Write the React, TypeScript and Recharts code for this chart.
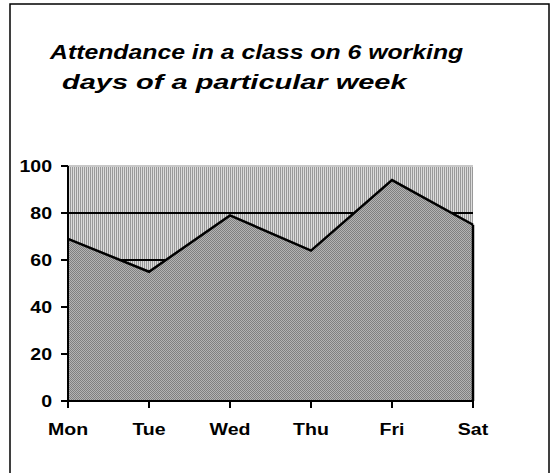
import React from "react";
import {
  AreaChart,
  Area,
  XAxis,
  YAxis,
  CartesianGrid,
  ReferenceLine,
} from "recharts";

const days = ["Mon", "Tue", "Wed", "Thu", "Fri", "Sat"];
const attendance = [69, 55, 79, 64, 94, 75];
const yTicks = [0, 20, 40, 60, 80, 100];
const gridValues = [20, 40, 60, 80];
const titleLines = ["Attendance in a class on 6 working", "days of a particular week"];

const data = days.map((day, i) => ({ day, value: attendance[i] }));

const FONT = "'Liberation Sans', Arial, sans-serif";
const W = 556;
const H = 473;
// the reference text is a little wider than plain Arial
const STRETCH = 1.15;

function XTick({ x, y, payload }: any) {
  return (
    <g transform={`translate(${x},${y}) scale(${STRETCH},1)`}>
      <text
        x={0}
        y={0}
        dy="0.71em"
        textAnchor="middle"
        fontFamily={FONT}
        fontSize={17}
        fontWeight="bold"
        fill="#000"
      >
        {payload.value}
      </text>
    </g>
  );
}

function YTick({ x, y, payload }: any) {
  return (
    <g transform={`translate(${x},${y}) scale(${STRETCH},1)`}>
      <text
        x={0}
        y={0}
        dy="0.355em"
        textAnchor="end"
        fontFamily={FONT}
        fontSize={17}
        fontWeight="bold"
        fill="#000"
      >
        {payload.value}
      </text>
    </g>
  );
}

export default function App() {
  const lastDay = days[days.length - 1];
  const lastValue = attendance[attendance.length - 1];

  return (
    <div
      style={{
        position: "absolute",
        left: 0,
        top: 0,
        width: W,
        height: H,
        background: "#fff",
        overflow: "hidden",
        fontFamily: FONT,
      }}
    >
      {/* outer frame + title */}
      <svg
        width={W}
        height={H}
        style={{ position: "absolute", left: 0, top: 0 }}
      >
        <rect
          x={10}
          y={4}
          width={539}
          height={520}
          fill="none"
          stroke="#000"
          strokeWidth={1.5}
        />
        <g transform="translate(50,58.5) scale(1.24,1)">
          <text
            x={0}
            y={0}
            fontFamily={FONT}
            fontSize={20}
            fontWeight="bold"
            fontStyle="italic"
            fill="#000"
          >
            {titleLines[0]}
          </text>
        </g>
        <g transform="translate(62,89) scale(1.38,1)">
          <text
            x={0}
            y={0}
            fontFamily={FONT}
            fontSize={21}
            fontWeight="bold"
            fontStyle="italic"
            fill="#000"
          >
            {titleLines[1]}
          </text>
        </g>
      </svg>

      <div style={{ position: "absolute", left: 0, top: 0 }}>
        <AreaChart
          width={W}
          height={H}
          data={data}
          margin={{ top: 166, right: 83, left: 0, bottom: 42 }}
        >
          <defs>
            <pattern
              id="vstripes"
              width={2}
              height={2}
              patternUnits="userSpaceOnUse"
            >
              <rect width={2} height={2} fill="#dcdcdc" />
              <rect width={1} height={2} fill="#999" />
            </pattern>
            <pattern
              id="checker"
              width={2}
              height={2}
              patternUnits="userSpaceOnUse"
            >
              <rect width={2} height={2} fill="#b4b4b4" />
              <rect x={0} y={0} width={1} height={1} fill="#808080" />
              <rect x={1} y={1} width={1} height={1} fill="#808080" />
            </pattern>
          </defs>
          <CartesianGrid
            fill="url(#vstripes)"
            fillOpacity={1}
            stroke="#000"
            strokeWidth={2}
            vertical={false}
            horizontalValues={gridValues}
          />
          <ReferenceLine y={100} stroke="#c8c8c8" strokeWidth={2} />
          <XAxis
            dataKey="day"
            height={30}
            axisLine={{ stroke: "#000", strokeWidth: 2 }}
            tickLine={{ stroke: "#000", strokeWidth: 2 }}
            tickSize={7}
            tickMargin={15}
            interval={0}
            tick={<XTick />}
          />
          <YAxis
            width={68}
            domain={[0, 100]}
            ticks={yTicks}
            axisLine={{ stroke: "#000", strokeWidth: 2 }}
            tickLine={{ stroke: "#000", strokeWidth: 2 }}
            tickSize={7}
            tickMargin={9}
            tick={<YTick />}
          />
          <Area
            type="linear"
            dataKey="value"
            stroke="#000"
            strokeWidth={2.5}
            fill="url(#checker)"
            fillOpacity={1}
            dot={false}
            activeDot={false}
            isAnimationActive={false}
          />
          <ReferenceLine
            segment={[
              { x: lastDay, y: 0 },
              { x: lastDay, y: lastValue },
            ]}
            stroke="#000"
            strokeWidth={2.5}
          />
        </AreaChart>
      </div>
    </div>
  );
}
